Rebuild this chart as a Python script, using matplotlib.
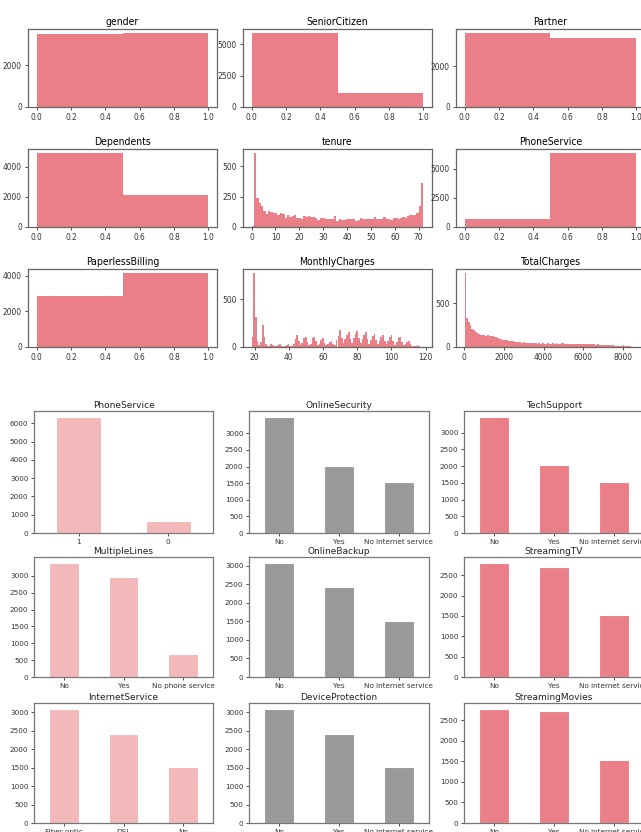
import numpy as np
import matplotlib
matplotlib.use("Agg")
import matplotlib.pyplot as plt
from matplotlib import font_manager as fm

# ---- data: top block (histograms) ----
binary_names = ["gender", "SeniorCitizen", "Partner", "Dependents", "PhoneService", "PaperlessBilling"]
binary_counts = {
    "gender": [3488, 3555],
    "SeniorCitizen": [5901, 1142],
    "Partner": [3641, 3402],
    "Dependents": [4933, 2110],
    "PhoneService": [682, 6361],
    "PaperlessBilling": [2872, 4171],
}
binary_yticks = {
    "gender": [0, 2000],
    "SeniorCitizen": [0, 2500, 5000],
    "Partner": [0, 2000],
    "Dependents": [0, 2000, 4000],
    "PhoneService": [0, 2500, 5000],
    "PaperlessBilling": [0, 2000, 4000],
}

# customers per tenure month, 0..72
tenure_counts = [11, 613, 238, 200, 176, 133, 110, 131, 123, 119, 116, 99, 117, 109, 76, 99,
                 80, 87, 97, 73, 71, 63, 90, 85, 94, 79, 79, 72, 57, 72, 72, 65, 69, 64, 65,
                 88, 50, 65, 59, 56, 64, 70, 65, 65, 51, 61, 74, 68, 64, 66, 68, 68, 80, 70,
                 68, 64, 80, 65, 67, 60, 76, 76, 70, 72, 80, 76, 89, 98, 100, 95, 119, 170, 362]

# MonthlyCharges, 100 bins between 18.25 and 118.75
monthly_range = (18.25, 118.75)
monthly_counts = [100, 780, 310, 60, 20, 50, 230, 110, 30, 10,
                  15, 35, 20, 8, 8, 25, 35, 15, 5, 10,
                  25, 35, 15, 10, 30, 80, 130, 60, 25, 40,
                  90, 110, 55, 20, 35, 90, 110, 60, 20, 30,
                  70, 90, 45, 20, 30, 50, 60, 35, 25, 70,
                  120, 180, 90, 40, 80, 130, 160, 80, 40, 90,
                  140, 170, 90, 40, 80, 130, 160, 80, 35, 70,
                  120, 140, 70, 30, 60, 110, 130, 60, 30, 60,
                  110, 130, 60, 25, 50, 90, 110, 50, 20, 30,
                  50, 60, 30, 10, 10, 15, 20, 10, 5, 3]

# TotalCharges, 100 bins between 18.8 and 8684.8
total_range = (18.8, 8684.8)
total_counts = [850, 330, 290, 250, 210, 190, 170, 160, 150, 140,
                140, 135, 130, 135, 125, 130, 125, 120, 110, 100,
                95, 90, 85, 80, 75, 70, 70, 65, 65, 60,
                60, 55, 55, 50, 55, 50, 50, 45, 50, 45,
                45, 45, 40, 45, 40, 45, 40, 40, 45, 40,
                40, 45, 40, 45, 40, 40, 50, 45, 35, 35,
                40, 35, 40, 35, 40, 40, 35, 40, 40, 35,
                35, 30, 35, 30, 30, 30, 25, 30, 25, 25,
                25, 25, 20, 25, 20, 20, 20, 15, 15, 15,
                15, 15, 20, 10, 10, 8, 6, 5, 3, 2]

# ---- data: bottom block (value counts) ----
bar_names = ["PhoneService", "OnlineSecurity", "TechSupport",
             "MultipleLines", "OnlineBackup", "StreamingTV",
             "InternetService", "DeviceProtection", "StreamingMovies"]
bar_labels = {
    "PhoneService": ["1", "0"],
    "OnlineSecurity": ["No", "Yes", "No internet service"],
    "TechSupport": ["No", "Yes", "No internet service"],
    "MultipleLines": ["No", "Yes", "No phone service"],
    "OnlineBackup": ["No", "Yes", "No internet service"],
    "StreamingTV": ["No", "Yes", "No internet service"],
    "InternetService": ["Fiber optic", "DSL", "No"],
    "DeviceProtection": ["No", "Yes", "No internet service"],
    "StreamingMovies": ["No", "Yes", "No internet service"],
}
bar_values = {
    "PhoneService": [6361, 682],
    "OnlineSecurity": [3498, 2019, 1526],
    "TechSupport": [3473, 2044, 1526],
    "MultipleLines": [3390, 2971, 682],
    "OnlineBackup": [3088, 2429, 1526],
    "StreamingTV": [2810, 2707, 1526],
    "InternetService": [3096, 2421, 1526],
    "DeviceProtection": [3095, 2422, 1526],
    "StreamingMovies": [2785, 2732, 1526],
}

HIST_COLOR = "#ea7f87"
COL_COLORS = ["#f2b8ba", "#999999", "#ea7f87"]

W, H = 641, 832


def px_rect(left: float, top: float, right: float, bottom: float) -> list:
    return [left / W, 1 - bottom / H, (right - left) / W, (bottom - top) / H]


def narrow_font(size: float) -> fm.FontProperties:
    # look for any condensed / narrow sans face, otherwise Liberation Sans
    for f in fm.fontManager.ttflist:
        nm = f.name.lower()
        fn = f.fname.lower()
        if f.style != "normal" or f.weight not in (400, "normal", "regular"):
            continue
        if "serif" in nm or "mono" in nm:
            continue
        if ("condensed" in fn or "narrow" in fn or "condensed" in nm or "narrow" in nm
                or str(f.stretch) in ("condensed", "semi-condensed", "extra-condensed")):
            if "bold" in fn or "oblique" in fn or "italic" in fn:
                continue
            return fm.FontProperties(fname=f.fname, size=size)
    return fm.FontProperties(family="Liberation Sans", size=size)


def style_axes(ax, color: str = "#555555") -> None:
    for sp in ax.spines.values():
        sp.set_color(color)
        sp.set_linewidth(0.9)


def draw_top(fig) -> None:
    title_fp = narrow_font(7.5)
    tick_fp = narrow_font(6)
    cols = [(28, 217), (243, 432), (456, 645)]
    rows = [(29, 107), (149, 227), (269, 347)]
    order = ["gender", "SeniorCitizen", "Partner",
             "Dependents", "tenure", "PhoneService",
             "PaperlessBilling", "MonthlyCharges", "TotalCharges"]
    for k, name in enumerate(order):
        r, c = divmod(k, 3)
        ax = fig.add_axes(px_rect(cols[c][0], rows[r][0], cols[c][1], rows[r][1]))
        if name in binary_counts:
            ax.hist([0, 1], bins=2, weights=binary_counts[name], color=HIST_COLOR)
            ax.set_xticks([0.0, 0.2, 0.4, 0.6, 0.8, 1.0])
            ax.set_yticks(binary_yticks[name])
        elif name == "tenure":
            n = len(tenure_counts)
            edges = np.linspace(0, n - 1, n + 1)
            centers = (edges[:-1] + edges[1:]) / 2
            ax.hist(centers, bins=edges, weights=tenure_counts, color=HIST_COLOR)
            ax.set_xticks(range(0, 71, 10))
            ax.set_yticks([0, 250, 500])
        else:
            counts = monthly_counts if name == "MonthlyCharges" else total_counts
            lo, hi = monthly_range if name == "MonthlyCharges" else total_range
            edges = np.linspace(lo, hi, len(counts) + 1)
            centers = (edges[:-1] + edges[1:]) / 2
            ax.hist(centers, bins=edges, weights=counts, color=HIST_COLOR)
            if name == "MonthlyCharges":
                ax.set_xticks(range(20, 121, 20))
            else:
                ax.set_xticks(range(0, 8001, 2000))
            ax.set_yticks([0, 500])
        ax.set_title(name, fontproperties=title_fp, pad=3)
        ax.tick_params(length=2.5, width=0.6, pad=2, colors="#333333")
        for lab in ax.get_xticklabels() + ax.get_yticklabels():
            lab.set_fontproperties(tick_fp)
        style_axes(ax, "#666666")


def draw_bottom(fig) -> None:
    cols = [(34, 213), (249, 429), (464, 644)]
    rows = [(411, 533), (557, 677), (703, 823)]
    for k, name in enumerate(bar_names):
        r, c = divmod(k, 3)
        ax = fig.add_axes(px_rect(cols[c][0], rows[r][0], cols[c][1], rows[r][1]))
        vals = bar_values[name]
        pos = np.arange(len(vals))
        ax.bar(pos, vals, width=0.5, color=COL_COLORS[c], edgecolor="white", linewidth=0.8)
        ax.set_xlim(-0.5, len(vals) - 0.5)
        ax.set_xticks(pos)
        ax.set_xticklabels(bar_labels[name])
        step = 1000 if max(vals) > 4000 else 500
        ax.set_yticks(np.arange(0, max(vals) + 1, step))
        ax.set_ylim(0, max(vals) * 1.05)
        ax.set_title(name, fontsize=6.5, pad=2.5, color="#222222")
        ax.tick_params(labelsize=5.2, length=2.5, width=0.6, pad=1.5, colors="#333333")
        style_axes(ax, "#777777")


def main() -> None:
    fig = plt.figure(figsize=(W / 100, H / 100), dpi=100)
    draw_top(fig)
    draw_bottom(fig)
    fig.savefig("out.png", dpi=100)


if __name__ == "__main__":
    main()
